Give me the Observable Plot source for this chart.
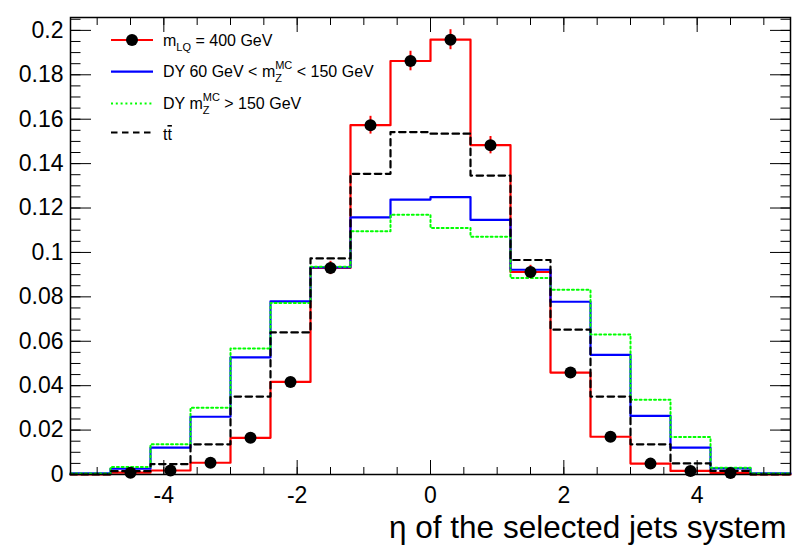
<!DOCTYPE html>
<html><head><meta charset="utf-8">
<script src="https://cdn.jsdelivr.net/npm/d3@7"></script>
<script src="https://cdn.jsdelivr.net/npm/@observablehq/plot@0.6"></script>
<style>body{margin:0;background:#fff;} svg{font-family:"Liberation Sans",Arial,Helvetica,sans-serif;}</style>
</head><body><div id="chart"></div>
<script>
// bin edges (18 bins of width 0.6 from -5.4 to 5.4)
const binEdges = [-5.4,-4.8,-4.2,-3.6,-3.0,-2.4,-1.8,-1.2,-0.6,0,0.6,1.2,1.8,2.4,3.0,3.6,4.2,4.8,5.4];
const binCenters = [-5.1,-4.5,-3.9,-3.3,-2.7,-2.1,-1.5,-0.9,-0.3,0.3,0.9,1.5,2.1,2.7,3.3,3.9,4.5,5.1];
// series values (normalised)
const lq     = [0, 0.0008, 0.0018, 0.0053, 0.0165, 0.0417, 0.0930, 0.1573, 0.1862, 0.1958, 0.1483, 0.0912, 0.0459, 0.0170, 0.0049, 0.0016, 0.0007, 0];
const lqErr  = [0, 0.0003, 0.0005, 0.0008, 0.0013, 0.0020, 0.0030, 0.0040, 0.0044, 0.0045, 0.0039, 0.0030, 0.0021, 0.0013, 0.0007, 0.0004, 0.0003, 0];
const dyLow  = [0.0005, 0.0026, 0.0121, 0.0260, 0.0527, 0.0780, 0.0933, 0.1158, 0.1238, 0.1249, 0.1147, 0.0922, 0.0778, 0.0539, 0.0264, 0.0121, 0.0028, 0.0005];
const dyHigh = [0.0005, 0.0034, 0.0136, 0.0301, 0.0567, 0.0772, 0.0936, 0.1095, 0.1170, 0.1110, 0.1071, 0.0885, 0.0832, 0.0631, 0.0337, 0.0169, 0.0030, 0.0005];
const ttbar  = [0, 0.0015, 0.0047, 0.0136, 0.0351, 0.0640, 0.0973, 0.1354, 0.1542, 0.1535, 0.1346, 0.0966, 0.0652, 0.0351, 0.0136, 0.0050, 0.0016, 0];
// tick labels
const xTicks = [-4, -2, 0, 2, 4];
const yTicks = [0, 0.02, 0.04, 0.06, 0.08, 0.1, 0.12, 0.14, 0.16, 0.18, 0.2];
const xTitle = "η of the selected jets system";

const xMinor = d3.range(-5, 5.001, 0.5);
const yMinor = d3.range(0, 0.2051, 0.005);

function stepRows(vals) {
  return binEdges.map((e, i) => ({x: e, y: vals[Math.min(i, vals.length - 1)]}));
}
const pts = binCenters.map((c, i) => ({x: c, y: lq[i], e: lqErr[i]})).filter(d => d.y > 0);

const font = '"Liberation Sans",Arial,Helvetica,sans-serif';
const greenDash = "2,2.8";
const blackDash = "6.5,4.5";
const svg = Plot.plot({
  width: 795, height: 549,
  marginLeft: 70, marginRight: 5, marginTop: 17, marginBottom: 75,
  style: {fontFamily: font, background: "white", overflow: "visible"},
  x: {domain: [-5.4, 5.4]},
  y: {domain: [0, 0.2058]},
  marks: [
    Plot.line(stepRows(lq), {x: "x", y: "y", curve: "step-after", stroke: "#ff0000", strokeWidth: 2.2}),
    Plot.line(stepRows(dyLow), {x: "x", y: "y", curve: "step-after", stroke: "#0000ff", strokeWidth: 2.2}),
    Plot.line(stepRows(dyHigh), {x: "x", y: "y", curve: "step-after", stroke: "#00ff00", strokeWidth: 2, strokeDasharray: greenDash}),
    Plot.line(stepRows(ttbar), {x: "x", y: "y", curve: "step-after", stroke: "black", strokeWidth: 2.2, strokeDasharray: blackDash}),
    Plot.ruleX(pts, {x: "x", y1: d => d.y - d.e, y2: d => d.y + d.e, stroke: "#ff0000", strokeWidth: 2}),
    Plot.dot(pts, {x: "x", y: "y", r: 6, fill: "black"}),
    Plot.frame({stroke: "black", strokeWidth: 1.5}),
    // inward ticks
    Plot.axisX(xMinor, {anchor: "bottom", tickSize: -7, fill: "none", label: null}),
    Plot.axisX(xTicks, {anchor: "bottom", tickSize: -14, fill: "none", label: null}),
    Plot.axisX(xMinor, {anchor: "top", tickSize: -7, fill: "none", label: null}),
    Plot.axisX(xTicks, {anchor: "top", tickSize: -14, fill: "none", label: null}),
    Plot.axisY(yMinor, {anchor: "left", tickSize: -10.5, fill: "none", label: null}),
    Plot.axisY(yTicks, {anchor: "left", tickSize: -21, fill: "none", label: null}),
    Plot.axisY(yMinor, {anchor: "right", tickSize: -10.5, fill: "none", label: null}),
    Plot.axisY(yTicks, {anchor: "right", tickSize: -21, fill: "none", label: null}),
    // labels
    Plot.axisX(xTicks, {anchor: "bottom", tickSize: 0, tickPadding: 12, fontSize: 23, fill: "black", tickFormat: d => String(d), label: null}),
    Plot.axisY(yTicks, {anchor: "left", tickSize: 0, tickPadding: 7, fontSize: 23, fill: "black", tickFormat: d => String(+d.toFixed(2)), label: null}),
    Plot.text([xTitle], {text: d => d, frameAnchor: "bottom-right", textAnchor: "end", lineAnchor: "bottom", dy: 63, dx: -4, fontSize: 31.5, fill: "black"})
  ]
});
document.getElementById("chart").appendChild(svg);

// legend (ROOT TLegend style)
const sel = d3.select(svg);
const lg = sel.append("g").attr("font-family", font).attr("fill", "black").attr("text-anchor", "start");
const rowsY = [40, 71.7, 103.5, 132.5];
const lx0 = 111, lx1 = 153, tx = 163;
const styles = [
  {stroke: "#ff0000", dash: null, dot: true, w: 2.2},
  {stroke: "#0000ff", dash: null, w: 2.2},
  {stroke: "#00ff00", dash: greenDash, w: 2},
  {stroke: "black", dash: blackDash, w: 2.2}
];
styles.forEach((s, i) => {
  const l = lg.append("line").attr("x1", lx0).attr("x2", lx1).attr("y1", rowsY[i]).attr("y2", rowsY[i])
    .attr("stroke", s.stroke).attr("stroke-width", s.w);
  if (s.dash) l.attr("stroke-dasharray", s.dash);
  if (s.dot) lg.append("circle").attr("cx", (lx0 + lx1) / 2).attr("cy", rowsY[i]).attr("r", 6).attr("fill", "black");
});
function rich(y, parts) {
  let cx = tx, lastStart = tx;
  for (const p of parts) {
    const sx = p.stack ? lastStart : cx;
    const t = lg.append("text").attr("x", sx).attr("y", y + (p.dy || 0)).attr("font-size", p.size || 16)
      .attr("text-anchor", "start").style("white-space", "pre").text(p.t);
    if (p.over) t.style("text-decoration", "overline");
    const w = t.node().getComputedTextLength();
    if (!p.stack) lastStart = sx;
    cx = Math.max(cx, sx + w);
  }
}
const base = 5.5;
rich(rowsY[0] + base, [{t: "m"}, {t: "LQ", size: 11, dy: 5}, {t: " = 400 GeV"}]);
rich(rowsY[1] + base, [{t: "DY 60 GeV < m"}, {t: "Z", size: 11, dy: 5}, {t: "MC", size: 11, dy: -8, stack: true}, {t: " < 150 GeV"}]);
rich(rowsY[2] + base, [{t: "DY m"}, {t: "Z", size: 11, dy: 5}, {t: "MC", size: 11, dy: -8, stack: true}, {t: " > 150 GeV"}]);
rich(rowsY[3] + base + 2, [{t: "t"}, {t: "t", over: true}]);
</script></body></html>
